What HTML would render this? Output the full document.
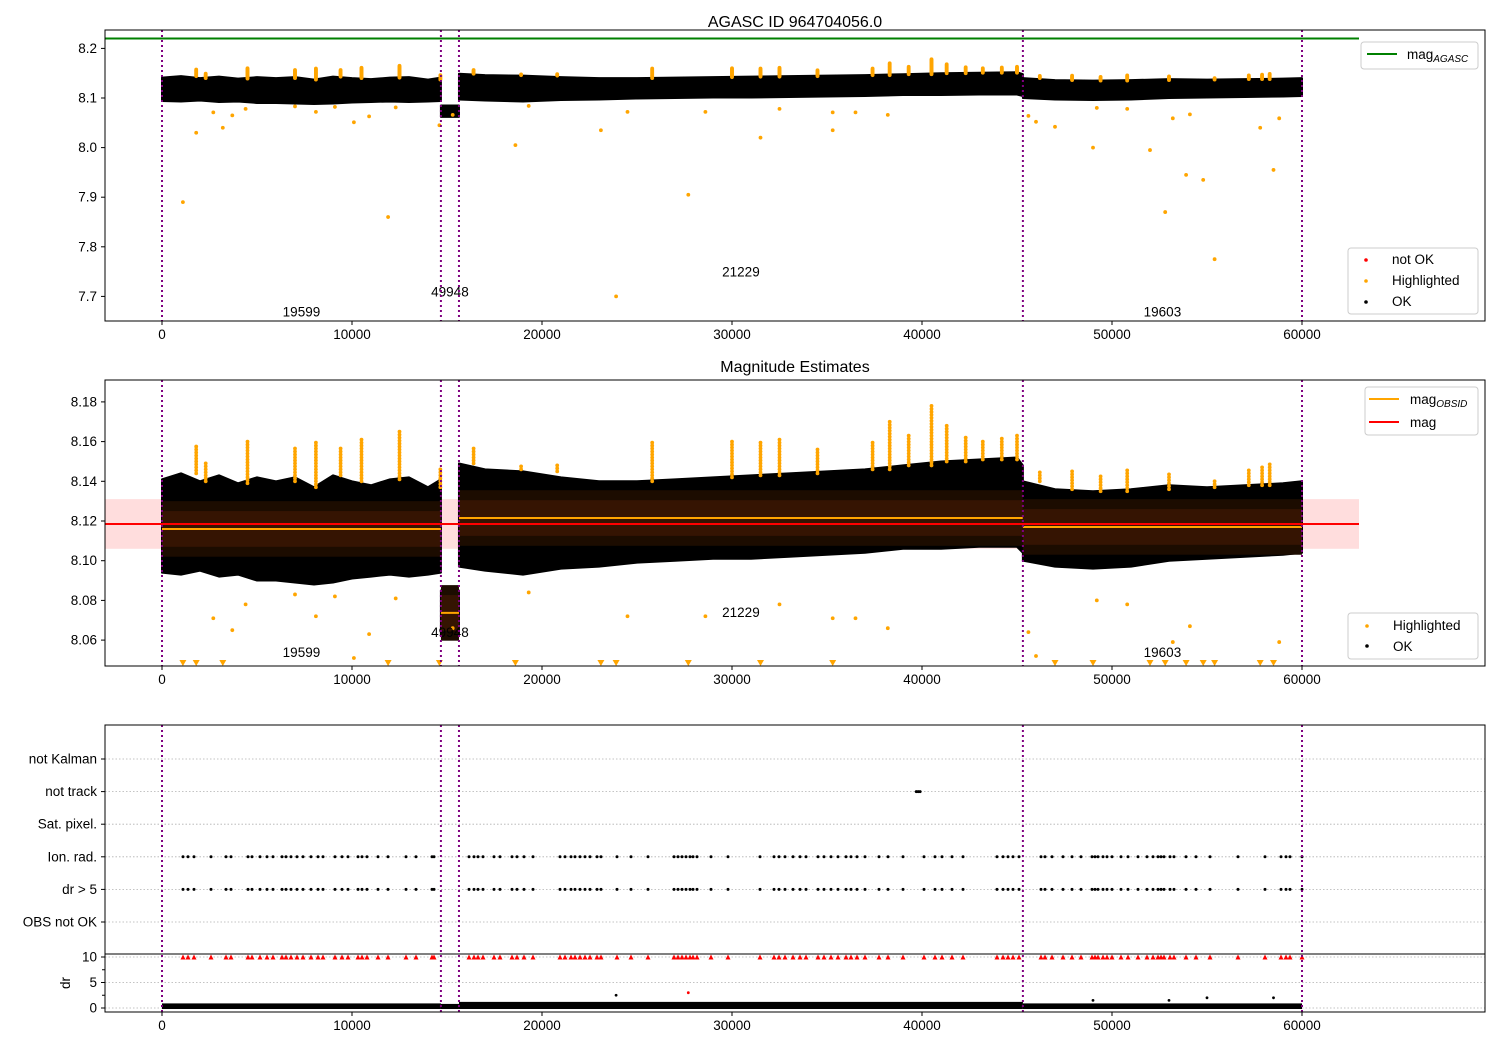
<!DOCTYPE html>
<html><head><meta charset="utf-8"><style>
body{margin:0;background:#fff}
svg text{font-family:"Liberation Sans","DejaVu Sans",sans-serif;fill:#000}
</style></head><body>
<svg id="c" width="1500" height="1050" xmlns="http://www.w3.org/2000/svg">
<defs>
<clipPath id="cpTop"><rect x="105" y="30" width="1380" height="291"/></clipPath>
<clipPath id="cpMid"><rect x="105" y="380" width="1380" height="286"/></clipPath>
<clipPath id="cpBot"><rect x="105" y="725" width="1380" height="287"/></clipPath>
</defs>
<g id="gTop" clip-path="url(#cpTop)"></g>
<g id="gMid" clip-path="url(#cpMid)"></g>
<g id="gBot" clip-path="url(#cpBot)"></g>
<g id="gAx"></g>
<text x="795" y="27" font-size="16" text-anchor="middle">AGASC ID 964704056.0</text>
<text x="795" y="372" font-size="16" text-anchor="middle">Magnitude Estimates</text>
<g>
<rect x="1361" y="42" width="117" height="27" rx="3" fill="#fff" stroke="#ccc"/>
<line x1="1367" y1="54" x2="1397" y2="54" stroke="green" stroke-width="2"/>
<text x="1407" y="59" font-size="13.5">mag<tspan font-size="10" font-style="italic" dy="3">AGASC</tspan></text>
</g>
<g>
<rect x="1348" y="248" width="130" height="66" rx="3" fill="#fff" stroke="#ccc"/>
<circle cx="1366" cy="260" r="1.8" fill="red"/><text x="1392" y="264" font-size="13.5">not OK</text>
<circle cx="1366" cy="281" r="1.8" fill="orange"/><text x="1392" y="285" font-size="13.5">Highlighted</text>
<circle cx="1366" cy="302" r="1.8" fill="black"/><text x="1392" y="306" font-size="13.5">OK</text>
</g>
<g>
<rect x="1365" y="387" width="113" height="48" rx="3" fill="#fff" stroke="#ccc"/>
<line x1="1369" y1="399" x2="1399" y2="399" stroke="orange" stroke-width="2"/>
<text x="1410" y="404" font-size="13.5">mag<tspan font-size="10" font-style="italic" dy="3">OBSID</tspan></text>
<line x1="1369" y1="422" x2="1399" y2="422" stroke="red" stroke-width="2"/>
<text x="1410" y="427" font-size="13.5">mag</text>
</g>
<g>
<rect x="1348" y="613" width="130" height="46" rx="3" fill="#fff" stroke="#ccc"/>
<circle cx="1367" cy="626" r="1.8" fill="orange"/><text x="1393" y="630" font-size="13.5">Highlighted</text>
<circle cx="1367" cy="646" r="1.8" fill="black"/><text x="1393" y="651" font-size="13.5">OK</text>
</g>
</svg>
<script>
// ---- data ----
const segStart=[0,14680,15630,45310];
const segEnd=[14680,15630,45310,60000];
const segObsid=['19599','49948','21229','19603'];
const segMean=[8.116,8.0737,8.1215,8.117];
const segLabelMag=[7.67,7.71,7.75,7.67];
const boundaries=[0,14680,15630,45310,60000];
const magAgasc=8.22;
const magMean=8.1185;
const magSigma=0.0125;
const envT=[[0,1000,2000,3000,4000,5000,6000,7000,8000,9000,10000,11000,12000,13000,14000,14680],[14680,15630],[15630,17000,19000,21000,23000,25000,27000,29000,31000,33000,35000,37000,39000,41000,43000,45000,45310],[45310,47000,49000,51000,53000,55000,57000,59000,60000]];
const envHi=[[8.141,8.144,8.140,8.143,8.139,8.142,8.140,8.142,8.137,8.143,8.140,8.138,8.141,8.142,8.137,8.141],[8.085,8.085],[8.149,8.146,8.145,8.142,8.140,8.140,8.141,8.142,8.143,8.144,8.145,8.146,8.148,8.150,8.151,8.152,8.148],[8.140,8.136,8.135,8.136,8.138,8.137,8.138,8.139,8.140]];
const envLo=[[8.094,8.093,8.095,8.092,8.093,8.090,8.090,8.089,8.088,8.089,8.091,8.092,8.093,8.092,8.093,8.094],[8.062,8.062],[8.097,8.095,8.093,8.096,8.097,8.099,8.100,8.101,8.101,8.102,8.103,8.104,8.106,8.106,8.107,8.107,8.104],[8.100,8.097,8.096,8.097,8.100,8.101,8.102,8.103,8.104]];
const spikeT=[1800,2300,4500,7000,8100,9400,10500,12500,14650,16400,18900,20800,25800,30000,31500,32500,34500,37400,38300,39300,40500,41300,42300,43200,44200,45000,46200,47900,49400,50800,53000,55400,57200,57900,58300];
const spikeMag=[8.158,8.150,8.160,8.157,8.160,8.157,8.162,8.165,8.146,8.157,8.148,8.148,8.160,8.161,8.160,8.162,8.157,8.160,8.171,8.163,8.179,8.168,8.163,8.160,8.162,8.164,8.145,8.145,8.143,8.146,8.144,8.141,8.146,8.147,8.149];
const lowT=[1100,1800,2700,3200,3700,4400,7000,8100,9100,10100,10900,11900,12300,14600,15300,18600,19300,23100,23900,24500,27700,28600,31500,32500,35300,35300,36500,38200,45600,46000,47000,49000,49200,50800,52000,52800,53200,53900,54100,54800,55400,57800,58500,58800];
const lowMag=[7.89,8.03,8.071,8.04,8.065,8.078,8.083,8.072,8.082,8.051,8.063,7.86,8.081,8.045,8.066,8.005,8.084,8.035,7.70,8.072,7.905,8.072,8.02,8.078,8.035,8.071,8.071,8.066,8.064,8.052,8.042,8.00,8.08,8.078,7.995,7.87,8.059,7.945,8.067,7.935,7.775,8.04,7.955,8.059];
const flagCats=['OBS not OK','dr > 5','Ion. rad.','Sat. pixel.','not track','not Kalman'];
const flagT=[1105,1368,1684,2579,3368,3632,4526,4737,5158,5526,5842,6316,6526,6789,7105,7421,7842,8211,8474,9105,9474,9789,10316,10526,10789,11368,11895,12842,13368,14211,14316,16158,16421,16632,16895,17474,17789,18421,18684,19053,19526,20947,21211,21526,21737,22000,22263,22526,22895,23105,23947,24684,25579,26947,27158,27368,27579,27789,27947,28158,28895,29789,31474,32211,32474,32789,33211,33579,33895,34526,34842,35211,35579,36000,36263,36579,37000,37737,38211,39000,40105,40684,41053,41579,42158,43947,44263,44526,44789,45105,46263,46474,46842,47421,47895,48368,48947,49105,49263,49526,49737,50000,50474,50842,51368,51842,52158,52421,52579,52737,53053,53263,53895,54421,55158,56632,58053,58895,59158,59368,60000];
const notTrackT=[39700,39800,39900];
const drOutT=[23900,27700,49000,53000,55000,58500];
const drOutVal=[2.5,3.0,1.5,1.5,2.0,2.0];
const drBandHi=[0.9,0.8,1.2,0.9];
const xTicks=[0,10000,20000,30000,40000,50000,60000];
const topYTicks=[7.7,7.8,7.9,8.0,8.1,8.2];
const midYTicks=[8.06,8.08,8.10,8.12,8.14,8.16,8.18];
const drTicks=[0,5,10];
// ---- scales ----
const X=t=>162+t*0.019;
const YT=m=>98-(m-8.1)*496;
const YM=m=>521-(m-8.12)*1985;
const YF=i=>922-i*32.6;
const YD=d=>1008-d*5.1;
const NS='http://www.w3.org/2000/svg';
function mk(tag,attrs,parent){const e=document.createElementNS(NS,tag);for(const k in attrs)e.setAttribute(k,attrs[k]);parent.appendChild(e);return e;}
const gT=document.getElementById('gTop'),gM=document.getElementById('gMid'),gB=document.getElementById('gBot'),gA=document.getElementById('gAx');

let e=mk('rect',{x:X(-3000),y:YM(magMean+magSigma),width:X(63000)-X(-3000),height:YM(magMean-magSigma)-YM(magMean+magSigma),fill:'#ffdddd'},gM);



function cloud(g,Y,name){
  for(let s=0;s<envT.length;s++){
    let pts=[];
    for(let i=0;i<envT[s].length;i++)pts.push(X(envT[s][i])+','+Y(envHi[s][i]));
    for(let i=envT[s].length-1;i>=0;i--)pts.push(X(envT[s][i])+','+Y(envLo[s][i]));
    const p=mk('polygon',{points:pts.join(' '),fill:'#000',stroke:'#000','stroke-width':2,'stroke-linejoin':'round'},g);
    
    
  }
}
cloud(gT,YT,'top');
cloud(gM,YM,'middle');
for(let s=0;s<segStart.length;s++){
  const x0=X(segStart[s]),x1=X(segEnd[s]);
  let r=mk('rect',{x:x0,y:YM(segMean[s]+0.014),width:x1-x0,height:YM(segMean[s]-0.014)-YM(segMean[s]+0.014),fill:'#1c0c00'},gM);
  
  
  r=mk('rect',{x:x0,y:YM(segMean[s]+0.009),width:x1-x0,height:YM(segMean[s]-0.009)-YM(segMean[s]+0.009),fill:'#351402'},gM);
  
  
  const l=mk('line',{x1:x0,x2:x1,y1:YM(segMean[s]),y2:YM(segMean[s]),stroke:'orange','stroke-width':2},gM);
  
  
}
e=mk('line',{x1:X(-3000),x2:X(63000),y1:YM(magMean),y2:YM(magMean),stroke:'red','stroke-width':2},gM);


e=mk('line',{x1:X(-3000),x2:X(63000),y1:YT(magAgasc),y2:YT(magAgasc),stroke:'green','stroke-width':2},gT);



function baseHi(t){for(let s=0;s<envT.length;s++){if(t>=segStart[s]&&t<=segEnd[s]){const a=envT[s];for(let i=0;i<a.length-1;i++)if(t>=a[i]&&t<=a[i+1])return envHi[s][i];return envHi[s][0];}}return 8.14;}
for(let i=0;i<spikeT.length;i++){
  const b=baseHi(spikeT[i]);
  for(let m=b;m<=spikeMag[i]+1e-9;m+=0.0015){
    let c=mk('circle',{cx:X(spikeT[i]),cy:YM(m),r:1.9,fill:'orange'},gM);
    
    
    c=mk('circle',{cx:X(spikeT[i]),cy:YT(m),r:1.9,fill:'orange'},gT);
    
    
  }
}
for(let i=0;i<lowT.length;i++){
  let c=mk('circle',{cx:X(lowT[i]),cy:YT(lowMag[i]),r:1.9,fill:'orange'},gT);
  
  
  if(lowMag[i]>=8.046){
    c=mk('circle',{cx:X(lowT[i]),cy:YM(lowMag[i]),r:1.9,fill:'orange'},gM);
    
    
  }else{
    const x=X(lowT[i]);
    c=mk('polygon',{points:(x-3.5)+',660 '+(x+3.5)+',660 '+x+',666',fill:'orange'},gM);
    
    
  }
}
for(let s=0;s<segStart.length;s++){
  const cx=X((segStart[s]+segEnd[s])/2);
  let t=mk('text',{x:cx,y:YT(segLabelMag[s])+5,'font-size':13.5,'text-anchor':'middle'},gT);
  t.textContent=segObsid[s];
  
  
  t=mk('text',{x:cx,y:[657,637,617,657][s],'font-size':13.5,'text-anchor':'middle'},gM);
  t.textContent=segObsid[s];
  
  
}

for(let i=0;i<flagCats.length;i++){
  const g=mk('line',{x1:105,x2:1485,y1:YF(i),y2:YF(i),stroke:'#b0b0b0','stroke-width':0.8,'stroke-dasharray':'1.5,2'},gB);
  
  
}
for(const d of [0,5,10]){
  const g=mk('line',{x1:105,x2:1485,y1:YD(d),y2:YD(d),stroke:'#b0b0b0','stroke-width':0.8,'stroke-dasharray':'1.5,2'},gB);
  
  
}
for(const t of flagT){
  for(const idx of [1,2]){
    const c=mk('circle',{cx:X(t),cy:YF(idx),r:1.5,fill:'black'},gB);
    
    
  }
  const x=X(t),y=YD(10);
  const p=mk('polygon',{points:(x-2.5)+','+(y+2.5)+' '+(x+2.5)+','+(y+2.5)+' '+x+','+(y-2.5),fill:'red'},gB);
  
  
}
for(const t of notTrackT){
  const c=mk('circle',{cx:X(t),cy:YF(4),r:1.5,fill:'black'},gB);
  
  
}
for(let s=0;s<4;s++){
  const x0=X(segStart[s]),x1=X(segEnd[s]);
  const r=mk('rect',{x:x0,y:YD(drBandHi[s]),width:x1-x0,height:YD(-0.2)-YD(drBandHi[s]),fill:'black'},gB);
  
  
}
for(let i=0;i<drOutT.length;i++){
  const c=mk('circle',{cx:X(drOutT[i]),cy:YD(drOutVal[i]),r:1.4,fill:i==1?'red':'black'},gB);
  
  
}

for(const b of boundaries){
  for(const [y0,y1] of [[30,321],[380,666],[725,1012]]){
    const l=mk('line',{x1:X(b),x2:X(b),y1:y0,y2:y1,stroke:'purple','stroke-width':2,'stroke-dasharray':'2,3'},gA);
    
    
  }
}
function frame(y0,y1,name){const r=mk('rect',{x:105,y:y0,width:1380,height:y1-y0,fill:'none',stroke:'#000','stroke-width':1},gA);}
frame(30,321,'top-axes-frame');frame(380,666,'middle-axes-frame');frame(725,954,'flags-axes-frame');frame(954,1012,'dr-axes-frame');
function xAxis(yb){
  for(const t of xTicks){
    mk('line',{x1:X(t),x2:X(t),y1:yb,y2:yb+4,stroke:'#000'},gA);
    const tx=mk('text',{x:X(t),y:yb+18,'font-size':13.5,'text-anchor':'middle'},gA);
    tx.textContent=t;
    
    
  }
}
xAxis(321);xAxis(666);xAxis(1012);
function yAxis(ticks,Y,fmt){
  for(const v of ticks){
    mk('line',{x1:101,x2:105,y1:Y(v),y2:Y(v),stroke:'#000'},gA);
    const tx=mk('text',{x:97,y:Y(v)+4.5,'font-size':13.5,'text-anchor':'end'},gA);
    tx.textContent=fmt(v);
    
    
  }
}
yAxis(topYTicks,YT,v=>v.toFixed(1));
yAxis(midYTicks,YM,v=>v.toFixed(2));
yAxis(drTicks,YD,v=>String(v));
for(const v of [2.5,7.5]) mk('line',{x1:102,x2:105,y1:YD(v),y2:YD(v),stroke:'#000'},gA);
for(let i=0;i<flagCats.length;i++){
  mk('line',{x1:101,x2:105,y1:YF(i),y2:YF(i),stroke:'#000'},gA);
  const tx=mk('text',{x:97,y:YF(i)+4.5,'font-size':13.5,'text-anchor':'end'},gA);
  tx.textContent=flagCats[i];
  
  
}
const yl=mk('text',{x:0,y:0,'font-size':13.5,'text-anchor':'middle',transform:'translate(70,983) rotate(-90)'},gA);
yl.textContent='dr';


</script>
</body></html>
